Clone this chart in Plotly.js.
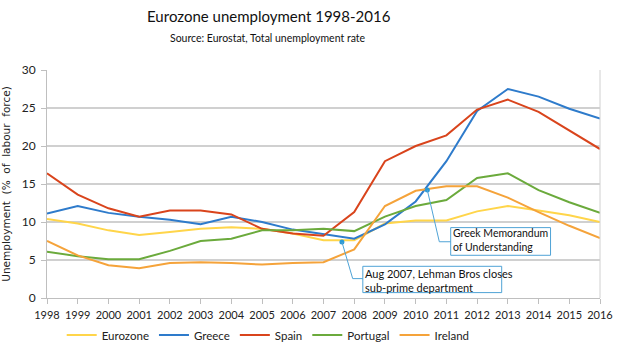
<!DOCTYPE html>
<html>
<head>
<meta charset="utf-8">
<script src="https://cdn.plot.ly/plotly-3.0.1.min.js"></script>
<style>
html,body{margin:0;padding:0;background:#fff;}
#chart{width:622px;height:354px;}
</style>
</head>
<body>
<div id="chart"></div>
<script>
const years = [1998,1999,2000,2001,2002,2003,2004,2005,2006,2007,2008,2009,2010,2011,2012,2013,2014,2015,2016];
const eurozone = [10.4,9.8,8.9,8.3,8.7,9.1,9.3,9.1,8.5,7.6,7.6,9.8,10.2,10.2,11.4,12.1,11.5,10.9,10.0];
const greece   = [11.1,12.1,11.2,10.7,10.3,9.7,10.7,10.0,9.0,8.4,7.8,9.7,12.7,18.0,24.6,27.5,26.5,24.9,23.6];
const spain    = [16.4,13.6,11.8,10.7,11.5,11.5,11.0,9.1,8.5,8.2,11.3,18.0,20.0,21.4,24.8,26.1,24.5,22.1,19.6];
const portugal = [6.1,5.5,5.1,5.1,6.2,7.5,7.8,8.9,8.9,9.1,8.8,10.7,12.1,12.9,15.8,16.4,14.2,12.6,11.2];
const ireland  = [7.5,5.6,4.3,3.9,4.6,4.7,4.6,4.4,4.6,4.7,6.4,12.1,14.1,14.7,14.7,13.2,11.3,9.5,7.9];
const seriesNames = ["Eurozone","Greece","Spain","Portugal","Ireland"];
const eventDates = [2007.6, 2010.38];
const eventValues = [7.37, 14.2];
const eventTexts = ["Aug 2007, Lehman Bros closes<br>sub-prime department","Greek Memorandum<br>of Understanding"];

const colors = ["#FFD54A","#2E7BCB","#D9441C","#6BAA3C","#F5A33A"];
const values = [eurozone, greece, spain, portugal, ireland];
const FONT = "Lato, 'Open Sans', sans-serif";

const traces = values.map((v,i)=>({
  x: years, y: v, name: seriesNames[i], type: "scatter", mode: "lines",
  line: {color: colors[i], width: 2}
}));
traces.push({
  x: eventDates, y: eventValues, type: "scatter", mode: "markers",
  marker: {color: "#2A9AD6", size: 5}, showlegend: false, hoverinfo: "skip"
});

const boxColor = "#4FA3D6";
const layout = {
  width: 622, height: 354,
  margin: {l: 47, r: 22, t: 70, b: 56},
  paper_bgcolor: "#fff", plot_bgcolor: "#fff",
  font: {family: FONT, color: "#222", size: 11},
  title: {text: "Eurozone unemployment 1998-2016", font: {family: FONT, size: 15, color: "#111"},
          x: 0.432, xanchor: "center", y: 0.952, yanchor: "middle", yref: "container", automargin: false},
  showlegend: true,
  legend: {orientation: "h", x: 0.40, xanchor: "center", y: 1 - 335/354, yref: "container", yanchor: "middle",
           font: {family: FONT, size: 11.5, color: "#222"}, itemwidth: 30, traceorder: "normal"},
  xaxis: {
    range: [1998, 2016], tickvals: years, ticktext: years.map(String), tickangle: 0, automargin: false,
    showgrid: false, zeroline: false, showline: true, linecolor: "#BFBFBF", linewidth: 1,
    ticks: "outside", ticklen: 5, tickcolor: "#BFBFBF", mirror: false, ticklabelstandoff: 2,
    tickfont: {family: FONT, size: 11, color: "#222"}
  },
  yaxis: {
    range: [0, 30], dtick: 5, showgrid: true, gridcolor: "#D0D0D0", gridwidth: 1.5, automargin: false,
    zeroline: false, showline: true, linecolor: "#BFBFBF", linewidth: 1,
    ticks: "outside", ticklen: 5, tickcolor: "#BFBFBF", ticklabelstandoff: 3,
    tickfont: {family: FONT, size: 12, color: "#222"},
    title: {text: "Unemployment  (%  of  labour  force)", standoff: 10,
            font: {family: "'DejaVu Sans', Verdana, sans-serif", size: 10.5, color: "#222"}}
  },
  shapes: [
    {type: "line", xref: "paper", yref: "paper", x0: 1, x1: 1, y0: 0, y1: 1, line: {color: "#D0D0D0", width: 1}},
    {type: "path", xref: "x", yref: "y", path: "M 2007.6 7.37 L 2007.95 2.55 L 2008.28 2.55", line: {color: boxColor, width: 1}},
    {type: "path", xref: "x", yref: "y", path: "M 2010.38 14.2 L 2010.77 7.4 L 2011.14 7.4", line: {color: boxColor, width: 1}},
    {type: "rect", xref: "x", yref: "y", x0: 2008.28, x1: 2012.8, y0: 0.71, y1: 4.17, line: {color: boxColor, width: 1}, fillcolor: "rgba(255,255,255,0)"},
    {type: "rect", xref: "x", yref: "y", x0: 2011.14, x1: 2014.39, y0: 5.62, y1: 9.26, line: {color: boxColor, width: 1}, fillcolor: "rgba(255,255,255,0)"}
  ],
  annotations: [
    {text: "Source: Eurostat, Total unemployment rate", xref: "paper", yref: "paper", x: 0.3996, y: 1.14,
     xanchor: "center", yanchor: "middle", showarrow: false, font: {family: FONT, size: 10.5, color: "#111"}},
    {text: eventTexts[0], xref: "x", yref: "y", x: 2008.3, y: 2.35, xanchor: "left", yanchor: "middle",
     align: "left", showarrow: false, font: {family: FONT, size: 11, color: "#111"}},
    {text: eventTexts[1], xref: "x", yref: "y", x: 2011.16, y: 7.6, xanchor: "left", yanchor: "middle",
     align: "left", showarrow: false, font: {family: FONT, size: 10.5, color: "#111"}}
  ]
};

Plotly.newPlot("chart", traces, layout, {displayModeBar: false, staticPlot: true});
</script>
</body>
</html>
